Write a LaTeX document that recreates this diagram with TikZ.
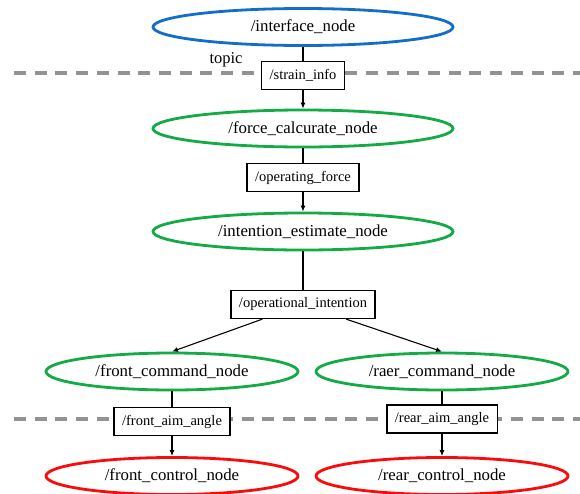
\documentclass[tikz,border=0pt]{standalone}
\usepackage{fontspec}
\setmainfont{Liberation Serif}
\newfontfamily\rosfont{Liberation Serif}
\usetikzlibrary{shapes.geometric,arrows.meta}

\definecolor{rosblue}{RGB}{20,110,200}
\definecolor{rosgreen}{RGB}{20,170,70}
\definecolor{rosred}{RGB}{250,10,10}

\tikzset{
  rosnode/.style={ellipse, line width=2.8pt, fill=white, inner sep=0pt,
    minimum width=300pt, minimum height=37pt, font=\rosfont\fontsize{16.8}{18}\selectfont},
  topicbox/.style={rectangle, draw=black, line width=1.2pt, fill=white,
    inner xsep=8pt, minimum height=28pt, font=\rosfont\fontsize{14.5}{16}\selectfont},
  cutline/.style={draw=gray!85, line width=3.2pt, dash pattern=on 12pt off 8.7pt},
}

\begin{document}
\begin{tikzpicture}[x=1pt, y=-1pt]
  \useasboundingbox (0,0) rectangle (580,493);

  % dashed borders
  \coordinate (l1) at (14,73);
  \coordinate (r1) at (580,73);
  \coordinate (l2) at (14,419);
  \coordinate (r2) at (580,419);
  \draw[cutline] (l1) -- (r1);
  \draw[cutline] (l2) -- (r2);

  \begin{scope}[every node/.style={rosnode}]
    \node[draw=rosblue]  (iface)  at (303,27)    {/interface\_node};
    \node[draw=rosgreen] (force)  at (303,128.5) {/force\_calcurate\_node};
    \node[draw=rosgreen] (intent) at (303,231.5) {/intention\_estimate\_node};
    \node[draw=rosgreen, minimum width=252pt] (front) at (172,371.5) {/front\_command\_node};
    \node[draw=rosgreen, minimum width=252pt] (rear)  at (442,371.5) {/raer\_command\_node};
    \node[draw=rosred, minimum width=252pt] (fctrl) at (172,476) {/front\_control\_node};
    \node[draw=rosred, minimum width=252pt] (rctrl) at (442,476) {/rear\_control\_node};
  \end{scope}

  \begin{scope}[every node/.style={topicbox}]
    \node (strain) at (303,75.5) {/strain\_info};
    \node (opforce) at (303,177.5) {/operating\_force};
    \node (opint) at (303,304.5) {/operational\_intention};
    \node (faim) at (172,421.5) {/front\_aim\_angle};
    \node (raim) at (442,419) {/rear\_aim\_angle};
  \end{scope}

  \node[font=\rosfont\fontsize{16.5}{18}\selectfont] (topic) at (226,60) {topic};

  \begin{scope}[every edge/.style={draw, line width=1.1pt}]
    \path (iface)   edge (strain);
    \path (strain)  edge[-{Latex[length=6pt,width=5pt]}] (force);
    \path (force)   edge (opforce);
    \path (opforce) edge[-{Latex[length=6pt,width=5pt]}] (intent);
    \path (intent)  edge (opint);
    \path (opint)   edge[-{Latex[length=6pt,width=5pt]}] (front.north);
    \path (opint)   edge[-{Latex[length=6pt,width=5pt]}] (rear.north);
    \path (front)   edge (faim);
    \path (faim)    edge[-{Latex[length=6pt,width=5pt]}] (fctrl);
    \path (rear)    edge (raim);
    \path (raim)    edge[-{Latex[length=6pt,width=5pt]}] (rctrl);
  \end{scope}

\end{tikzpicture}
\end{document}
